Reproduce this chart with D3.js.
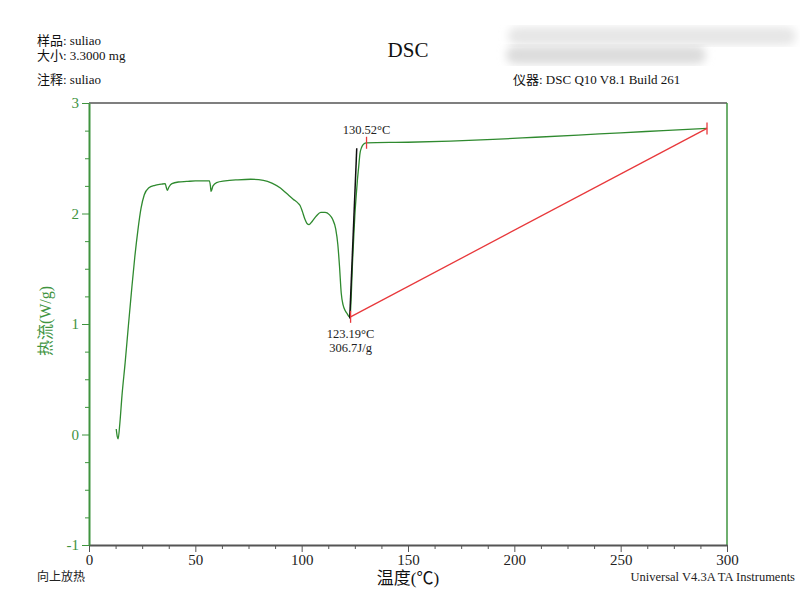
<!DOCTYPE html>
<html><head><meta charset="utf-8">
<script src="https://cdn.jsdelivr.net/npm/d3@7"></script>
<style>
body{margin:0;background:#fff;}
svg{display:block;}
</style></head>
<body>
<svg id="c" width="800" height="600"></svg>
<script>
// ---- data ----
const temperature = [12.8,13.3,13.7,14.5,15.5,17,18.5,20,21.5,23,24.5,26,28,31,34,35.8,36.3,36.8,37.6,39,42,46,50,54,56.6,57.1,57.4,58.3,60,64,70,76,82,86,90,93,96,98.5,99.3,100.3,101.5,102.5,103.5,105,107,109,111,113,114.5,116,117,117.8,118.6,119.5,120.5,121.5,122.4,122.9,123.4,123.9,124.4,125.0,125.6,126.2,126.8,127.4,128.2,129.2,130.5,150,170,190,210,230,250,270,290.6];
const heatFlow =    [0.05,-0.02,-0.04,0.1,0.35,0.65,0.98,1.3,1.6,1.85,2.05,2.17,2.23,2.255,2.265,2.27,2.24,2.21,2.24,2.27,2.285,2.29,2.295,2.295,2.295,2.25,2.2,2.25,2.28,2.295,2.305,2.31,2.3,2.275,2.23,2.18,2.13,2.09,2.07,2.02,1.95,1.91,1.9,1.93,1.98,2.01,2.01,1.99,1.95,1.86,1.72,1.52,1.28,1.17,1.12,1.09,1.065,1.1,1.3,1.55,1.75,1.98,2.15,2.3,2.42,2.54,2.6,2.63,2.64,2.645,2.655,2.67,2.69,2.71,2.73,2.75,2.77];
const tangentLine = [[122.6,1.05],[125.9,2.59]];
const baselineLine = [[123.0,1.065],[290.6,2.77]];
const markerPoints = [[123.0,1.065],[130.5,2.64],[290.6,2.77]];
const xTicks = [0,50,100,150,200,250,300];
const yTicks = [-1,0,1,2,3];
const onsetLabel = "130.52°C";
const peakLabels = ["123.19°C","306.7J/g"];

// ---- layout ----
const svg = d3.select("#c");
const L=89,R=727,T=103,B=545;
const x = d3.scaleLinear().domain([0,300]).range([L,R]);
const y = d3.scaleLinear().domain([-1,3]).range([B,T]);
const green="#3f943f", curveGreen="#2f8a2f", gray="#555";
const serif="'Liberation Serif','Times New Roman',serif";
const cjk="'Liberation Serif','Noto Sans CJK SC',serif";
const fmt = v => String(v);

// blurred (redacted) area
const defs=svg.append("defs");
defs.append("filter").attr("id","bl").append("feGaussianBlur").attr("stdDeviation",4);
svg.append("rect").attr("x",508).attr("y",27).attr("width",288).attr("height",18).attr("rx",9).attr("fill","#e6e6e6").attr("filter","url(#bl)");
svg.append("rect").attr("x",506).attr("y",46).attr("width",200).attr("height",18).attr("rx",9).attr("fill","#dcdcdc").attr("filter","url(#bl)");

// header texts
const hdr = svg.append("g").attr("font-family",cjk).attr("font-size",13).attr("fill","#111");
hdr.append("text").attr("x",37).attr("y",45).text("样品: suliao");
hdr.append("text").attr("x",37).attr("y",60).text("大小:  3.3000 mg");
hdr.append("text").attr("x",37).attr("y",84).text("注释: suliao");
hdr.append("text").attr("x",513).attr("y",84).text("仪器: DSC Q10 V8.1 Build 261");
svg.append("text").attr("x",408).attr("y",57).attr("text-anchor","middle").attr("font-family",serif).attr("font-size",21).attr("fill","#111").text("DSC");

// minor ticks
svg.append("g").attr("transform",`translate(${L},0)`)
  .call(d3.axisLeft(y).tickValues(d3.range(-1,3.01,0.25).filter(v=>!yTicks.includes(v))).tickSize(4).tickFormat(""))
  .call(g=>{g.select(".domain").remove();g.selectAll("line").attr("stroke",green);});
svg.append("g").attr("transform",`translate(0,${B})`)
  .call(d3.axisBottom(x).tickValues(d3.range(0,300.1,12.5).filter(v=>!xTicks.includes(v))).tickSize(4).tickFormat(""))
  .call(g=>{g.select(".domain").remove();g.selectAll("line").attr("stroke",gray);});

// frame
svg.append("line").attr("x1",L).attr("x2",R).attr("y1",T).attr("y2",T).attr("stroke",gray).attr("stroke-width",1.5);
svg.append("line").attr("x1",R).attr("x2",R).attr("y1",T).attr("y2",B).attr("stroke",green).attr("stroke-width",1.5);

// axes
const xa = svg.append("g").attr("transform",`translate(0,${B})`)
  .call(d3.axisBottom(x).tickValues(xTicks).tickFormat(fmt).tickSize(7).tickSizeOuter(0).tickPadding(2));
xa.select(".domain").attr("stroke",gray).attr("stroke-width",2);
xa.selectAll("line").attr("stroke",gray);
xa.selectAll("text").attr("font-family",serif).attr("font-size",15).attr("fill","#222");

const ya = svg.append("g").attr("transform",`translate(${L},0)`)
  .call(d3.axisLeft(y).tickValues(yTicks).tickFormat(fmt).tickSize(7).tickSizeOuter(0).tickPadding(3));
ya.select(".domain").attr("stroke",green).attr("stroke-width",2);
ya.selectAll("line").attr("stroke",green);
ya.selectAll("text").attr("font-family",serif).attr("font-size",15).attr("fill",green);

// axis titles
svg.append("text").attr("transform","translate(51,321) rotate(-90)").attr("text-anchor","middle")
  .attr("font-family",cjk).attr("font-size",16).attr("fill",green).text("热流(W/g)");
svg.append("text").attr("x",408).attr("y",584).attr("text-anchor","middle")
  .attr("font-family",cjk).attr("font-size",17).attr("fill","#111").text("温度(℃)");
svg.append("text").attr("x",37).attr("y",581).attr("font-family",cjk).attr("font-size",12).attr("fill","#222").text("向上放热");
svg.append("text").attr("x",795).attr("y",581).attr("text-anchor","end").attr("font-family",serif).attr("font-size",12.5).attr("fill","#222").text("Universal V4.3A TA Instruments");

// curve
const line = d3.line().x(d=>x(d[0])).y(d=>y(d[1])).curve(d3.curveMonotoneX);
const pts = temperature.map((t,i)=>[t,heatFlow[i]]);
svg.append("path").datum(pts).attr("d",line).attr("fill","none").attr("stroke",curveGreen).attr("stroke-width",1.3);

// tangent & baseline
const straight = d3.line().x(d=>x(d[0])).y(d=>y(d[1]));
svg.append("path").datum(baselineLine).attr("d",straight).attr("stroke","#e8383b").attr("stroke-width",1.3).attr("fill","none");
svg.append("path").datum(tangentLine).attr("d",straight).attr("stroke","#111").attr("stroke-width",1.5).attr("fill","none");

// markers
svg.selectAll(".mk").data(markerPoints).join("line").attr("class","mk")
  .attr("x1",d=>x(d[0])).attr("x2",d=>x(d[0])).attr("y1",d=>y(d[1])-6).attr("y2",d=>y(d[1])+6)
  .attr("stroke","#e8383b").attr("stroke-width",1.3);

// annotation labels
const ann = svg.append("g").attr("font-family",serif).attr("font-size",12.5).attr("fill","#222").attr("text-anchor","middle");
ann.append("text").attr("x",x(markerPoints[1][0])).attr("y",y(markerPoints[1][1])-9).text(onsetLabel);
ann.append("text").attr("x",x(markerPoints[0][0])).attr("y",y(markerPoints[0][1])+21).text(peakLabels[0]);
ann.append("text").attr("x",x(markerPoints[0][0])).attr("y",y(markerPoints[0][1])+35).text(peakLabels[1]);
</script>
</body></html>
